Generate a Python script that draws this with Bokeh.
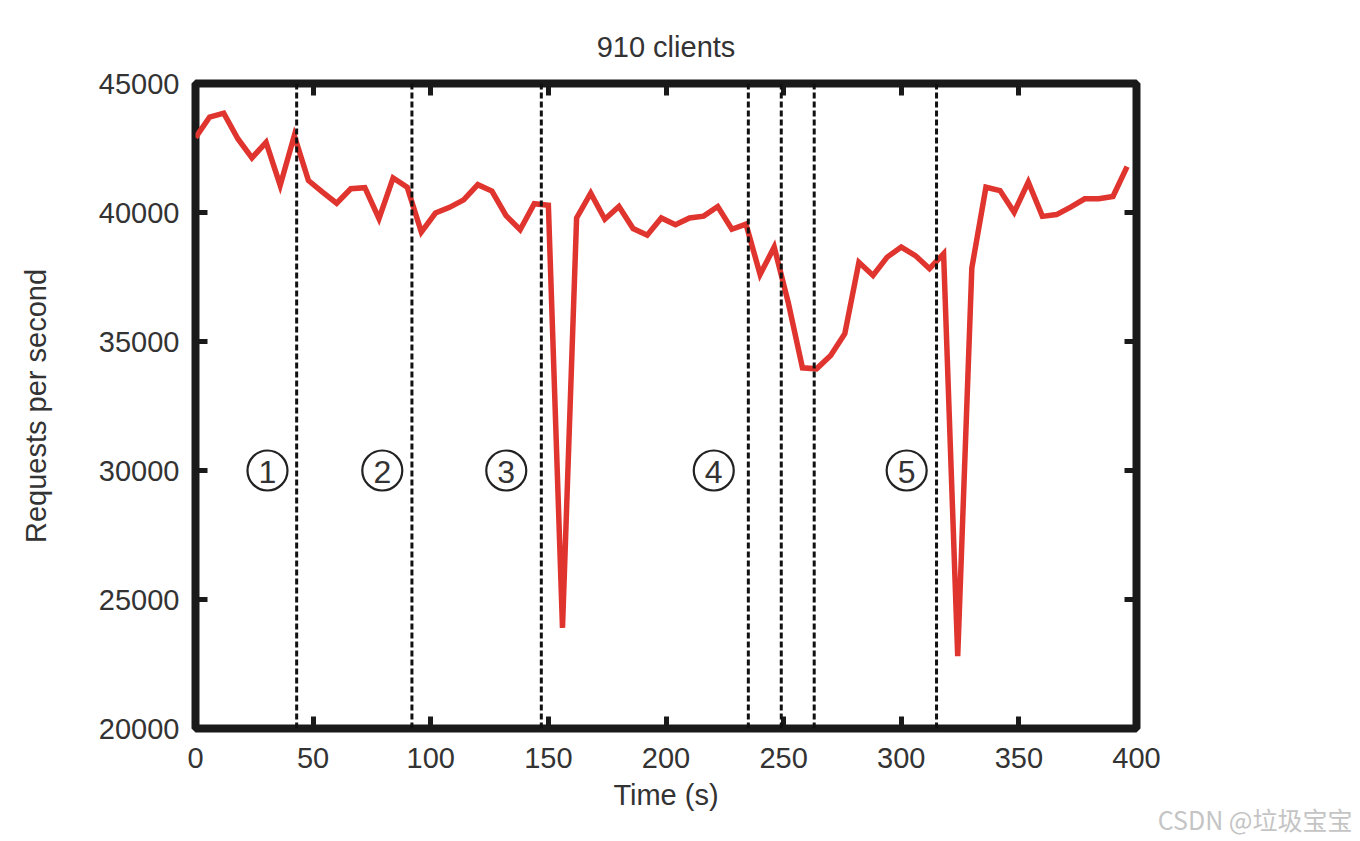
from bokeh.plotting import figure
from bokeh.models import Range1d, LinearAxis, Span, Title, FixedTicker, ColumnDataSource
from bokeh.core.properties import value
from bokeh.embed import file_html
from bokeh.resources import INLINE

title_text = "910 clients"
x_label = "Time (s)"
y_label = "Requests per second"

time_s = [0, 6, 12, 18, 24, 30, 36, 42, 48, 54, 60, 66, 72, 78, 84, 90, 96, 102, 108, 114,
          120, 126, 132, 138, 144, 150, 156, 162, 168, 174, 180, 186, 192, 198, 204, 210,
          216, 222, 228, 234, 240, 246, 252, 258, 264, 270, 276, 282, 288, 294, 300, 306,
          312, 318, 324, 330, 336, 342, 348, 354, 360, 366, 372, 378, 384, 390, 396]
requests = [42900, 43700, 43850, 42860, 42120, 42720, 41050, 42980, 41240, 40790, 40360,
            40920, 40960, 39760, 41340, 40980, 39240, 39980, 40200, 40490, 41080, 40830,
            39880, 39330, 40340, 40280, 23900, 39790, 40750, 39740, 40230, 39380, 39120,
            39790, 39530, 39790, 39860, 40230, 39350, 39550, 37600, 38660, 36500, 33980,
            33940, 34460, 35300, 38070, 37560, 38270, 38660, 38330, 37820, 38400, 22800,
            37850, 40980, 40850, 40010, 41180, 39850, 39920, 40210, 40530, 40530, 40620,
            41780]

phase_boundaries = [43, 92, 147, 235, 249, 263, 315]
phase_labels = ["1", "2", "3", "4", "5"]
phase_label_x = [30.6, 79.4, 132.1, 220.3, 302.3]
phase_label_y = [30000, 30000, 30000, 30000, 30000]

x_ticks = [0, 50, 100, 150, 200, 250, 300, 350, 400]
y_ticks = [20000, 25000, 30000, 35000, 40000, 45000]
watermark = "CSDN @垃圾宝宝"

FONT = "Liberation Sans"
TXT = "#333333"
FS = "29px"

p = figure(frame_width=941, frame_height=645,
           x_range=Range1d(0, 400), y_range=Range1d(20000, 45000),
           output_backend="svg", toolbar_location=None,
           min_border_left=195, min_border_right=224,
           min_border_top=83, min_border_bottom=113,
           background_fill_color="white", border_fill_color="white")

p.title.text = title_text
p.title.align = "center"
p.title.text_font = FONT
p.title.text_font_size = FS
p.title.text_font_style = "normal"
p.title.text_color = TXT
p.title.standoff = 41

p.outline_line_color = "#1a1a1a"
p.outline_line_width = 8
p.outline_line_alpha = 1
p.grid.visible = False

def style_axis(ax, ticks, show_labels):
    ax.ticker = FixedTicker(ticks=ticks)
    ax.axis_line_color = None
    ax.major_tick_in = 12
    ax.major_tick_out = 0
    ax.major_tick_line_width = 5
    ax.major_tick_line_color = "#1a1a1a"
    ax.minor_tick_line_color = None
    ax.major_label_text_font = FONT
    ax.major_label_text_font_size = FS
    ax.major_label_text_color = TXT
    if not show_labels:
        ax.major_label_overrides = {t: "" for t in ticks}
        ax.major_label_standoff = 0

style_axis(p.xaxis[0], x_ticks, True)
style_axis(p.yaxis[0], y_ticks, True)
p.xaxis[0].major_label_standoff = 19
p.yaxis[0].major_label_standoff = 16
p.xaxis[0].axis_label = x_label
p.yaxis[0].axis_label = y_label
for ax in (p.xaxis[0], p.yaxis[0]):
    ax.axis_label_text_font = FONT
    ax.axis_label_text_font_size = FS
    ax.axis_label_text_font_style = "normal"
    ax.axis_label_text_color = TXT
p.xaxis[0].axis_label_standoff = 8
p.yaxis[0].axis_label_standoff = 44

top_ax = LinearAxis()
style_axis(top_ax, x_ticks, False)
p.add_layout(top_ax, "above")
right_ax = LinearAxis()
style_axis(right_ax, y_ticks, False)
p.add_layout(right_ax, "right")

for b in phase_boundaries:
    p.add_layout(Span(location=b, dimension="height", line_color="#111111",
                      line_width=3, line_dash="6 3"))

p.line(time_s, requests, line_color="#e0342f", line_width=5.5, line_join="miter")

src = ColumnDataSource(dict(x=phase_label_x, y=phase_label_y, t=phase_labels))
p.scatter("x", "y", source=src, marker="circle", size=40, fill_color=None,
          line_color="#222222", line_width=2.2)
p.text("x", "y", text="t", source=src, text_align="center", text_baseline="middle",
       text_font=value(FONT), text_font_size="32px", text_color="#333333",
       y_offset=1)

wm = Title(text=watermark, align="right", text_font="Noto Sans CJK SC",
           text_font_size="25px", text_font_style="normal", text_color="#c4c4c4",
           offset=-216, standoff=-29)
p.add_layout(wm, "below")

open("out.html", "w").write(file_html(p, INLINE))
